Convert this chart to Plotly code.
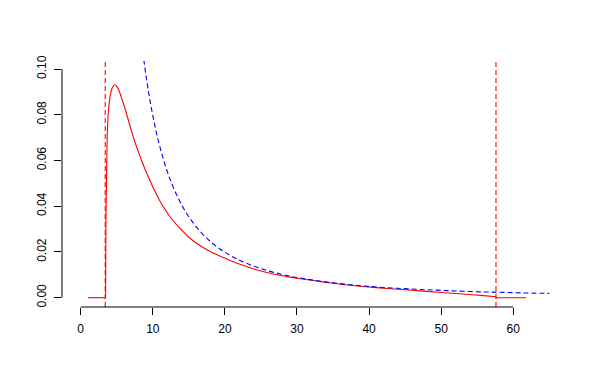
import plotly.graph_objects as go

# Red density curve
red_x = [1, 3.45, 3.5, 3.61, 3.69, 3.83, 4.06, 4.34, 4.7, 5.0, 5.35, 5.83, 6.38, 7.07,
         7.77, 8.46, 9.15, 9.85, 10.5, 11.0, 12.39, 13.77, 15.16, 16.55, 17.94, 19.32,
         20.71, 22.1, 23.49, 24.87, 26.26, 27.65, 29.04, 30.43, 32, 35, 38, 41, 44, 47,
         50, 53, 55.5, 57.6, 57.6, 61.8]
red_y = [0, 0, 0.035, 0.058, 0.072, 0.081, 0.0877, 0.0915, 0.0931, 0.0925, 0.0903, 0.0858,
         0.0802, 0.0726, 0.0657, 0.0599, 0.0545, 0.0495, 0.0452, 0.0422, 0.0354, 0.0303,
         0.0260, 0.0228, 0.0202, 0.0182, 0.0163, 0.0146, 0.0131, 0.0118, 0.0107, 0.0098,
         0.0090, 0.0083, 0.0076, 0.0063, 0.0052, 0.0044, 0.0037, 0.0030, 0.0023, 0.0016,
         0.0010, 0.0004, 0, 0]

# Blue dashed curve
blue_x = [8.6, 9.15, 9.61, 10.17, 10.76, 11.46, 12.15, 12.84, 13.77, 14.7, 15.85, 17.0,
          18.17, 19.32, 20.71, 22.1, 23.49, 24.87, 26.26, 27.65, 29.04, 30.43, 32, 35, 38,
          41, 44, 47, 50, 53, 56, 58, 61, 65]
blue_y = [0.1076, 0.0951, 0.0862, 0.0770, 0.0688, 0.0606, 0.0539, 0.0483, 0.0420, 0.0368,
          0.0317, 0.0275, 0.0241, 0.0213, 0.0185, 0.0163, 0.0144, 0.0129, 0.0115, 0.0104,
          0.0094, 0.0086, 0.0078, 0.0065, 0.0055, 0.0047, 0.0041, 0.0036, 0.0032, 0.0028,
          0.0025, 0.0024, 0.0021, 0.0019]

# Vertical cutoffs
cut_lo = 3.4
cut_hi = 57.6

x_ticks = [0, 10, 20, 30, 40, 50, 60]
y_ticks = [0.00, 0.02, 0.04, 0.06, 0.08, 0.10]
y_tick_labels = ["0.00", "0.02", "0.04", "0.06", "0.08", "0.10"]

RED = "#FF0000"
BLUE = "#0000FF"

fig = go.Figure()
# red curve: flat head, smooth body, flat tail
n = len(red_x)
segments = [(0, 2, "linear"), (1, n - 2, "spline"), (n - 3, n, "linear")]
for a, b, shape in segments:
    fig.add_trace(go.Scatter(x=red_x[a:b], y=red_y[a:b], mode="lines", line_shape=shape,
                             line=dict(color=RED, width=1.1, smoothing=0.6), hoverinfo="skip"))
fig.add_trace(go.Scatter(x=blue_x, y=blue_y, mode="lines", line_shape="spline",
                         line=dict(color=BLUE, width=1.1, dash="5px,3px"), hoverinfo="skip"))

for c in (cut_lo, cut_hi):
    fig.add_shape(type="line", xref="x", yref="paper", x0=c, x1=c, y0=0, y1=1,
                  line=dict(color=RED, width=1.1, dash="5px,3px"))

# R-style axis lines spanning the tick range
fig.add_shape(type="line", xref="x", yref="paper", x0=x_ticks[0], x1=x_ticks[-1], y0=0, y1=0,
              line=dict(color="black", width=1))
fig.add_shape(type="line", xref="paper", yref="y", x0=0, x1=0, y0=y_ticks[0], y1=y_ticks[-1],
              line=dict(color="black", width=1))

fig.update_layout(
    width=600, height=384,
    margin=dict(l=54, r=40, t=53, b=85),
    plot_bgcolor="white", paper_bgcolor="white",
    showlegend=False,
    font=dict(family="Liberation Sans, Arial, sans-serif", size=12, color="black"),
    xaxis=dict(range=[-2.594, 67.59], tickvals=x_ticks, ticks="outside", ticklen=7,
               tickcolor="black", tickwidth=1, showgrid=False, zeroline=False,
               showline=False, ticklabelstandoff=4),
    yaxis=dict(range=[-0.00407, 0.1035], tickvals=y_ticks, ticktext=y_tick_labels,
               ticks="outside", ticklen=7, tickcolor="black", tickwidth=1, tickangle=-90,
               showgrid=False, zeroline=False, showline=False, ticklabelstandoff=3),
)

fig.write_html("out.html")
